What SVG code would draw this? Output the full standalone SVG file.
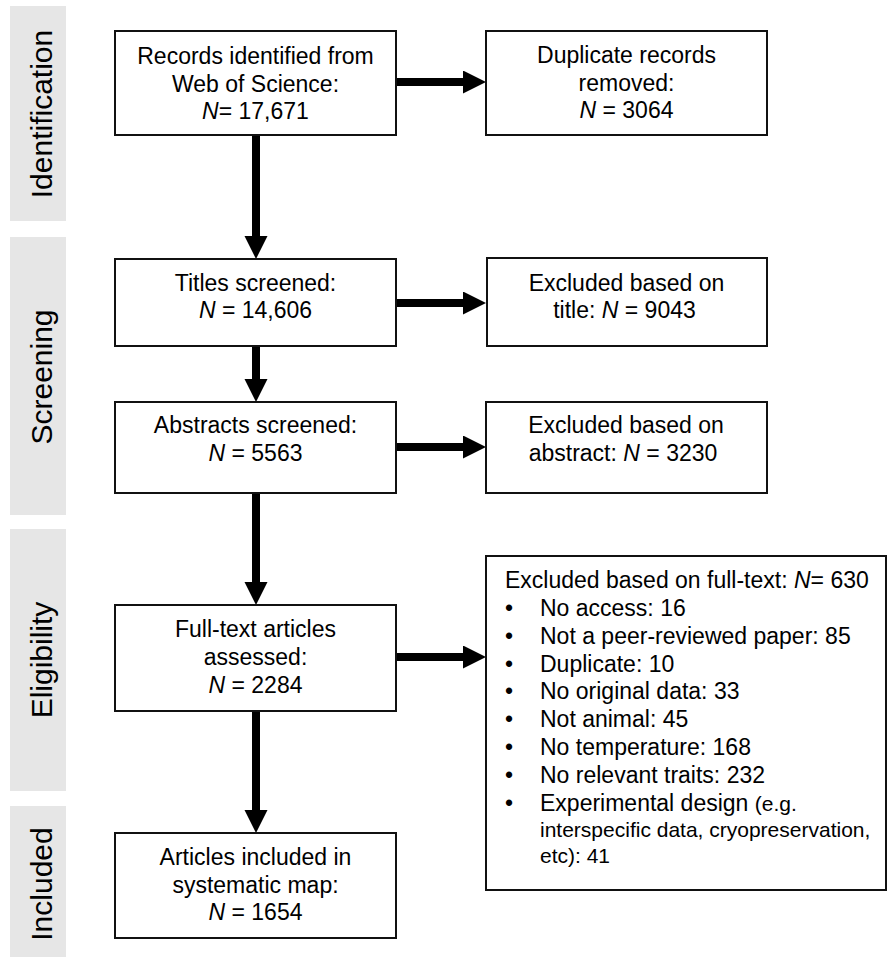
<svg xmlns="http://www.w3.org/2000/svg" width="887" height="957" viewBox="0 0 887 957">
<style>
.bar{fill:#e6e6e6}
.lbl{font-family:"Liberation Sans",Arial,sans-serif;font-size:30px;fill:#000;text-anchor:middle}
.box{fill:#fff;stroke:#111;stroke-width:2}
.t{font-family:"Liberation Sans",Arial,sans-serif;font-size:23px;fill:#000;text-anchor:middle}
.tl{font-family:"Liberation Sans",Arial,sans-serif;font-size:23px;fill:#000}
.ts{font-family:"Liberation Sans",Arial,sans-serif;font-size:21px;fill:#000}
.i{font-style:italic}
.c{stroke:#000;stroke-width:8;fill:none}
</style>
<defs>
<marker id="ah" markerUnits="userSpaceOnUse" markerWidth="24" markerHeight="24" refX="0" refY="11.5" orient="auto">
<path d="M0,0 L23,11.5 L0,23 Z" fill="#000"/>
</marker>
</defs>
<g id="stages">
<rect class="bar" x="10" y="6" width="56" height="215"/>
<text class="lbl" transform="translate(52,114) rotate(-90)">Identification</text>
<rect class="bar" x="10" y="237" width="56" height="278"/>
<text class="lbl" transform="translate(52,377) rotate(-90)">Screening</text>
<rect class="bar" x="10" y="529" width="56" height="262"/>
<text class="lbl" transform="translate(52,660) rotate(-90)">Eligibility</text>
<rect class="bar" x="10" y="806" width="56" height="151"/>
<text class="lbl" transform="translate(52,884) rotate(-90)">Included</text>
</g>
<g id="connectors">
<line class="c" x1="256" y1="136" x2="256" y2="236" marker-end="url(#ah)"/>
<line class="c" x1="256" y1="347" x2="256" y2="379" marker-end="url(#ah)"/>
<line class="c" x1="256" y1="494" x2="256" y2="582" marker-end="url(#ah)"/>
<line class="c" x1="256" y1="712" x2="256" y2="810" marker-end="url(#ah)"/>
<line class="c" x1="397" y1="82" x2="463" y2="82" marker-end="url(#ah)"/>
<line class="c" x1="397" y1="303" x2="463" y2="303" marker-end="url(#ah)"/>
<line class="c" x1="397" y1="447" x2="463" y2="447" marker-end="url(#ah)"/>
<line class="c" x1="397" y1="657" x2="463" y2="657" marker-end="url(#ah)"/>
</g>
<g id="records">
<rect class="box" x="115" y="31" width="281" height="104"/>
<text class="t" x="255.5" y="64">Records identified from</text>
<text class="t" x="255.5" y="92">Web of Science:</text>
<text class="t" x="255.5" y="119"><tspan class="i">N</tspan>= 17,671</text>
</g>
<g id="duplicates">
<rect class="box" x="486" y="31" width="281" height="104"/>
<text class="t" x="626.5" y="63">Duplicate records</text>
<text class="t" x="626.5" y="91">removed:</text>
<text class="t" x="626.5" y="118"><tspan class="i">N</tspan> = 3064</text>
</g>
<g id="titles">
<rect class="box" x="115" y="259" width="281" height="87"/>
<text class="t" x="255.5" y="291">Titles screened:</text>
<text class="t" x="255.5" y="318"><tspan class="i">N</tspan> = 14,606</text>
</g>
<g id="excl-title">
<rect class="box" x="487" y="258" width="280" height="88"/>
<text class="t" x="626.5" y="291">Excluded based on</text>
<text class="t" x="624.5" y="318">title: <tspan class="i">N</tspan> = 9043</text>
</g>
<g id="abstracts">
<rect class="box" x="115" y="402" width="281" height="91"/>
<text class="t" x="255.5" y="433">Abstracts screened:</text>
<text class="t" x="255.5" y="461"><tspan class="i">N</tspan> = 5563</text>
</g>
<g id="excl-abstract">
<rect class="box" x="486" y="402" width="281" height="91"/>
<text class="t" x="626" y="433">Excluded based on</text>
<text class="t" x="623" y="461">abstract: <tspan class="i">N</tspan> = 3230</text>
</g>
<g id="fulltext">
<rect class="box" x="115" y="605" width="281" height="106"/>
<text class="t" x="255.5" y="637">Full-text articles</text>
<text class="t" x="255.5" y="665">assessed:</text>
<text class="t" x="255.5" y="693"><tspan class="i">N</tspan> = 2284</text>
</g>
<g id="included">
<rect class="box" x="115" y="833" width="281" height="105"/>
<text class="t" x="255.5" y="865">Articles included in</text>
<text class="t" x="255.5" y="893">systematic map:</text>
<text class="t" x="255.5" y="920"><tspan class="i">N</tspan> = 1654</text>
</g>
<g id="excl-fulltext">
<rect class="box" x="486" y="556" width="400" height="334"/>
<text class="tl" x="505" y="588">Excluded based on full-text: <tspan class="i">N</tspan>= 630</text>
<g class="tl">
<text x="505" y="616">•</text><text x="540" y="616">No access: 16</text>
<text x="505" y="644">•</text><text x="540" y="644">Not a peer-reviewed paper: 85</text>
<text x="505" y="672">•</text><text x="540" y="672">Duplicate: 10</text>
<text x="505" y="699">•</text><text x="540" y="699">No original data: 33</text>
<text x="505" y="727">•</text><text x="540" y="727">Not animal: 45</text>
<text x="505" y="755">•</text><text x="540" y="755">No temperature: 168</text>
<text x="505" y="783">•</text><text x="540" y="783">No relevant traits: 232</text>
<text x="505" y="811">•</text><text x="540" y="811">Experimental design <tspan class="ts">(e.g.</tspan></text>
</g>
<text class="ts" x="540" y="837">interspecific data, cryopreservation,</text>
<text class="ts" x="540" y="863">etc): 41</text>
</g>
</svg>
